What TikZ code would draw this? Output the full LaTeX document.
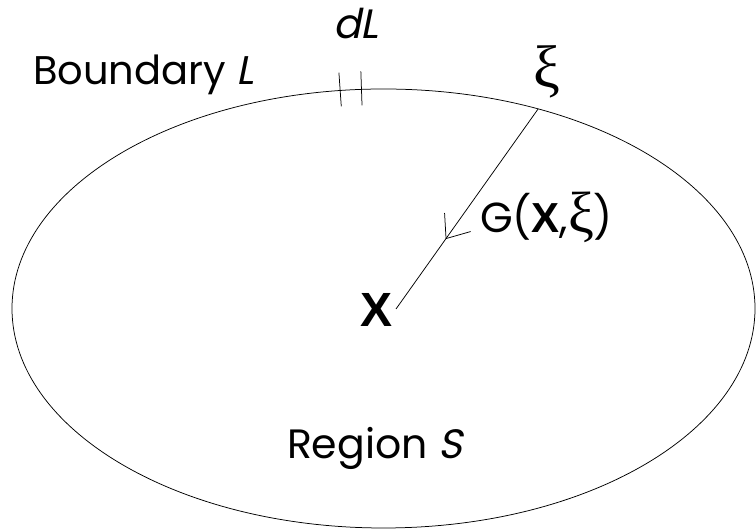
\documentclass[tikz,border=0pt]{standalone}
\usepackage{fontspec}
\setmainfont{Poppins}
\newfontfamily\slfont{Poppins}[FakeSlant=0.2]
\newfontfamily\grkfont{Liberation Serif}
\newfontfamily\xbfont{Liberation Sans}
\usetikzlibrary{decorations.markings,calc}
\begin{document}
\begin{tikzpicture}[x=1pt,y=1pt,
  lbl/.style={inner sep=0pt, outer sep=0pt, anchor=base west},
  bnd/.style={line width=0.75pt},
  tickmark/.style={line width=0.75pt},
  kernel/.style={line width=0.75pt, postaction={decorate},
    decoration={markings, mark=at position 0.648 with {\draw[line width=0.75pt] (-20pt,16pt) -- (0pt,0pt) -- (-20pt,-16pt);}}}]
\useasboundingbox (0,0) rectangle (756,532);
\coordinate (c) at (383.5,223.5);
\draw[bnd] (c) ellipse [x radius=371.5, y radius=219.5];
\coordinate (t1) at ($(c)+(96.7:371.5 and 219.5)$);
\coordinate (t2) at ($(c)+(93.4:371.5 and 219.5)$);
\coordinate (xi) at ($(c)+(65.4:371.5 and 219.5)$);
\coordinate (xe) at (396,223);
\draw[tickmark] ($(t1)+(94:18)$) -- ($(t1)+(-86:16)$);
\draw[tickmark] ($(t2)+(92:18)$) -- ($(t2)+(-88:16)$);
\draw[kernel] (xi) -- (xe);
\node[lbl] (bl) at (33,447) {\fontsize{40}{40}\selectfont Boundary {\slfont L}};
\node[lbl] (dl) at (333,493) {\fontsize{41}{41}\selectfont\slfont dL};
\node[lbl,anchor=base] (xil) at (546.5,444) {\fontsize{60}{60}\selectfont\grkfont ξ};
\node[lbl] (g) at (480,299) {\fontsize{42}{42}\selectfont G({\xbfont\bfseries X},{\fontsize{58}{58}\selectfont\grkfont ξ})};
\node[lbl] (X) at (360,205) {\fontsize{48}{48}\selectfont\xbfont\bfseries X};
\node[lbl] (reg) at (287,73) {\fontsize{41}{41}\selectfont Region {\slfont S}};
\end{tikzpicture}
\end{document}
